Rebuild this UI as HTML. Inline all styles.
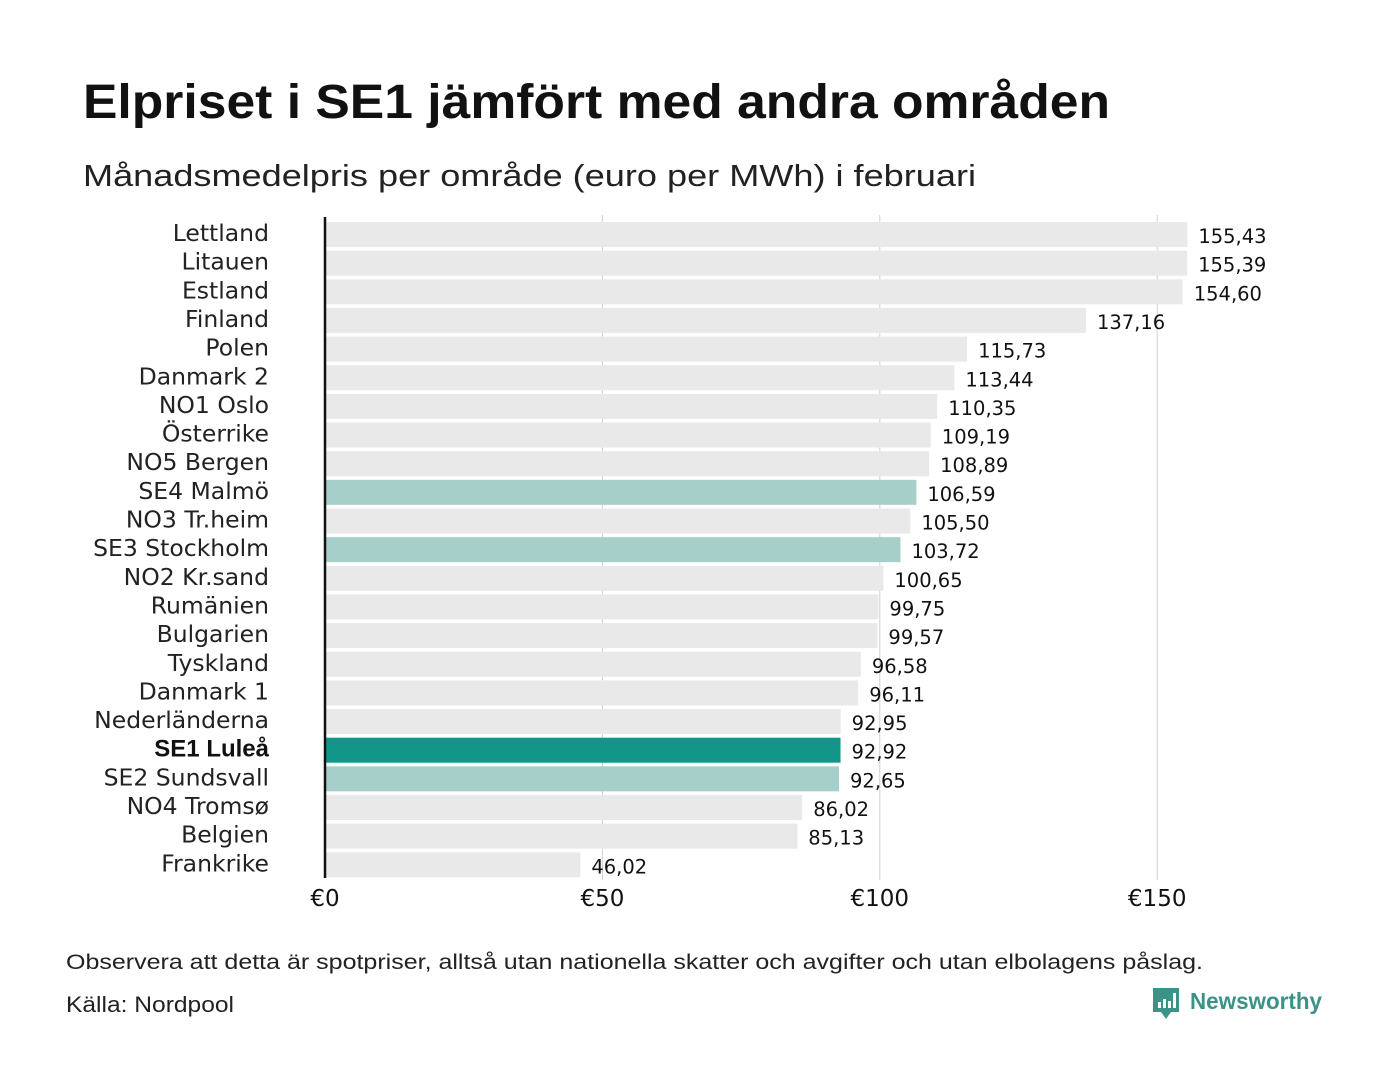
<!DOCTYPE html>
<html><head><meta charset="utf-8"><style>
body{margin:0;background:#fff;}
svg{display:block;font-family:"Liberation Sans",sans-serif;}
.dv{font-family:"DejaVu Sans","Liberation Sans",sans-serif;}
</style></head><body>
<svg id="c" width="1400" height="1080">
<text x="83" y="118" font-size="48" font-weight="bold" fill="#111" textLength="1027" lengthAdjust="spacingAndGlyphs">Elpriset i SE1 jämfört med andra områden</text>
<text x="83" y="186" font-size="31" fill="#222" textLength="893" lengthAdjust="spacingAndGlyphs">Månadsmedelpris per område (euro per MWh) i februari</text>
<g id="grid"></g><g id="bars"></g>
<text x="66" y="969" font-size="21" fill="#222" textLength="1137" lengthAdjust="spacingAndGlyphs">Observera att detta är spotpriser, alltså utan nationella skatter och avgifter och utan elbolagens påslag.</text>
<text x="66" y="1012" font-size="22" fill="#222" textLength="168" lengthAdjust="spacingAndGlyphs">Källa: Nordpool</text>
<g>
<path d="M1153 988 h26 v24 h-8 l-5 7 l-5 -7 h-8 z" fill="#3a9386"/>
<rect x="1158" y="1002" width="3" height="6" fill="#fff"/><rect x="1163" y="999" width="3" height="9" fill="#fff"/><rect x="1168" y="1001" width="3" height="7" fill="#fff"/><rect x="1173" y="993" width="3" height="15" fill="#fff"/>
<text x="1190" y="1009" font-size="23" font-weight="bold" fill="#3a9386" textLength="132" lengthAdjust="spacingAndGlyphs">Newsworthy</text>
</g>
</svg>
<script>
const categories=["Lettland","Litauen","Estland","Finland","Polen","Danmark 2","NO1 Oslo","Österrike","NO5 Bergen","SE4 Malmö","NO3 Tr.heim","SE3 Stockholm","NO2 Kr.sand","Rumänien","Bulgarien","Tyskland","Danmark 1","Nederländerna","SE1 Luleå","SE2 Sundsvall","NO4 Tromsø","Belgien","Frankrike"];
const values=[155.43,155.39,154.60,137.16,115.73,113.44,110.35,109.19,108.89,106.59,105.50,103.72,100.65,99.75,99.57,96.58,96.11,92.95,92.92,92.65,86.02,85.13,46.02];
const tickValues=[0,50,100,150];
const tickLabels=["€0","€50","€100","€150"];
const NS="http://www.w3.org/2000/svg";
const x=v=>325+v*5.548;
const y=i=>222+i*28.65;
function mk(t,a,p){const e=document.createElementNS(NS,t);for(const k in a)e.setAttribute(k,a[k]);p.appendChild(e);return e;}
const grid=document.getElementById('grid'),bars=document.getElementById('bars');
tickValues.forEach((v,i)=>{
 if(v>0){const l=mk('line',{x1:x(v),x2:x(v),y1:215,y2:880,stroke:'#d0d0d0','stroke-width':1},grid);
 
 }
 const t=mk('text',{x:x(v),y:906,'font-size':23,fill:'#111','text-anchor':'middle',class:'dv'},grid);
 t.textContent=tickLabels[i];
 
 
});
categories.forEach((c,i)=>{
 const col=c.startsWith('SE1')?'#13968a':(c.startsWith('SE')?'#a6cfca':'#e9e9e9');
 const r=mk('rect',{x:326,y:y(i),width:x(values[i])-326,height:25,fill:col},bars);
 
 
 const sel=c.startsWith('SE1');
 const lb=mk('text',{x:269,y:y(i)+19,'font-size':sel?24:23.5,fill:'#222','text-anchor':'end'},bars);
 if(sel){lb.setAttribute('font-weight','bold');lb.setAttribute('fill','#111');}
 else lb.setAttribute('class','dv');
 lb.textContent=c;
 
 
 const vl=mk('text',{x:x(values[i])+11,y:y(i)+21,'font-size':19.5,fill:'#111',class:'dv'},bars);
 vl.textContent=values[i].toFixed(2).replace('.',',');
 
 
});
const ax=mk('line',{x1:325,x2:325,y1:217,y2:878,stroke:'#111','stroke-width':2.5},bars);


</script>
</body></html>
